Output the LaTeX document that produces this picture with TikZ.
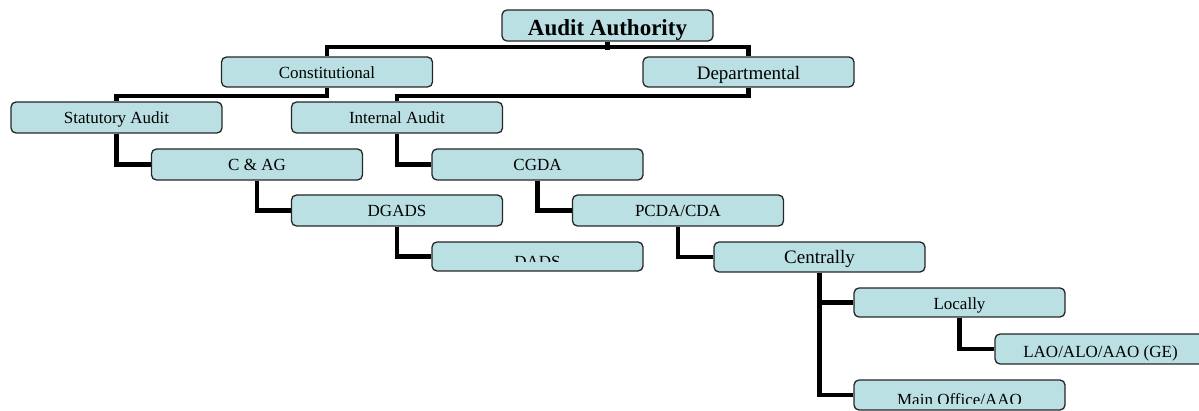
\documentclass[tikz,border=0pt]{standalone}
\usepackage{fontspec}
\setmainfont{Liberation Serif}
\usetikzlibrary{backgrounds}
\definecolor{boxblue}{RGB}{186,224,227}
\begin{document}
\begin{tikzpicture}[x=1pt,y=-1pt,
  box/.style={draw=black!85, line width=1.3pt, fill=boxblue, rounded corners=5pt,
    inner sep=0pt, minimum width=211pt, minimum height=30pt},
  conn/.style={line width=4.2pt, black},
  lbl/.style={anchor=base, inner sep=0pt, font=\fontsize{17}{17}\selectfont},
  lblbig/.style={anchor=base, inner sep=0pt, font=\fontsize{19}{19}\selectfont},
  lbltop/.style={anchor=base, inner sep=0pt, font=\fontsize{23}{23}\selectfont\bfseries}]
\useasboundingbox (0,0) rectangle (1199,411);
\clip (0,0) rectangle (1199,411);

% boxes
\node[box, minimum height=31pt] (aa) at (607.5,25.5) {};
\node[box] (con)   at (327,72) {};
\node[box] (dep)   at (748.5,72) {};
\node[box, minimum height=31pt] (stat)  at (116.5,117.5) {};
\node[box, minimum height=31pt] (int)   at (397,117.5) {};
\node[box, minimum height=31pt] (cag)   at (257,164.5) {};
\node[box, minimum height=31pt] (cgda)  at (537.5,164.5) {};
\node[box, minimum height=31pt] (dgads) at (397,210.5) {};
\node[box, minimum height=31pt] (pcda)  at (678,210.5) {};
\node[box, minimum height=29pt] (dads)  at (537.5,256.5) {};
\node[box] (cent)  at (819.5,257) {};
\node[box, minimum height=29pt] (loc)   at (959.5,302.5) {};
\node[box] (lao)   at (1100.5,349) {};
\node[box] (main)  at (959.5,395) {};

% texts
\node[lbltop] (taa) at (607.5,35.7) {Audit Authority};
\node[lbl]    (tcon) at (327,78.5) {Constitutional};
\node[lblbig] (tdep) at (748.5,79.3) {Departmental};
\node[lbl]    (tstat) at (116.5,124) {Statutory Audit};
\node[lbl]    (tint) at (397,124) {Internal Audit};
\node[lbl]    (tcag) at (257,171) {C \& AG};
\node[lbl]    (tcgda) at (537.5,171) {CGDA};
\node[lbl]    (tdgads) at (397,217) {DGADS};
\node[lbl]    (tpcda) at (678,217) {PCDA/CDA};
\begin{scope}
  \clip (432,242) rectangle (643,262);
  \node[lbl] (tdads) at (537.5,267.5) {DADS};
\end{scope}
\node[lblbig] (tcent) at (819.5,264) {Centrally};
\node[lbl]    (tloc) at (959.5,310) {Locally};
\node[lbl]    (tlao) at (1100.5,357.5) {LAO/ALO/AAO (GE)};
\begin{scope}
  \clip (854,380) rectangle (1065,403);
  \node[lbl] (tmain) at (959.5,405.5) {Main Office/AAO};
\end{scope}

% connectors
\begin{scope}[on background layer]
  \draw[conn] (aa.south) -- ++(0,8);
  \draw[conn] (con.north) -- ++(0,-9) -| (dep.north);
  \draw[conn] (con.south) -- ++(0,8) -| (stat.north);
  \draw[conn] (dep.south) -- ++(0,8) -| (int.north);
  \draw[conn] (stat.south) |- (cag.west);
  \draw[conn] (cag.south) |- (dgads.west);
  \draw[conn] (dgads.south) |- (dads.west);
  \draw[conn] (int.south) |- (cgda.west);
  \draw[conn] (cgda.south) |- (pcda.west);
  \draw[conn] (pcda.south) |- (cent.west);
  \draw[conn] (cent.south) |- (loc.west);
  \draw[conn] (cent.south) |- (main.west);
  \draw[conn] (loc.south) |- (lao.west);
\end{scope}
\end{tikzpicture}
\end{document}
